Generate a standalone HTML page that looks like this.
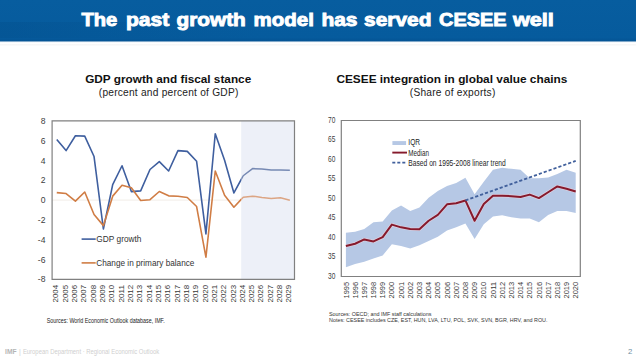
<!DOCTYPE html>
<html><head><meta charset="utf-8"><style>
html,body{margin:0;padding:0;background:#fff;width:636px;height:357px;overflow:hidden}
svg{display:block}
</style></head><body>
<svg width="636" height="357" viewBox="0 0 636 357">
<defs><linearGradient id="hg" x1="0" y1="0" x2="0" y2="1"><stop offset="0" stop-color="#075d9f"/><stop offset="0.9" stop-color="#065b9d"/><stop offset="1" stop-color="#045293"/></linearGradient><linearGradient id="hl" x1="0" y1="0" x2="0" y2="1"><stop offset="0" stop-color="#f2f6fa"/><stop offset="0.5" stop-color="#ffffff"/><stop offset="1" stop-color="#f1f1f1"/></linearGradient></defs>
<rect x="0" y="0" width="636" height="41.7" fill="url(#hg)"/>
<defs><linearGradient id="tx" x1="0" y1="0" x2="1" y2="0"><stop offset="0" stop-color="#03518f" stop-opacity="0.5"/><stop offset="0.4" stop-color="#03518f" stop-opacity="0.25"/><stop offset="1" stop-color="#03518f" stop-opacity="0"/></linearGradient></defs><rect x="0" y="22" width="260" height="16" fill="url(#tx)"/>
<rect x="0" y="41.7" width="636" height="3.6" fill="url(#hl)"/>
<text x="81.4" y="26" font-family='"Liberation Sans", sans-serif' font-weight="bold" font-size="18.5" fill="#fff" stroke="#fff" stroke-width="0.9" textLength="35.8" lengthAdjust="spacingAndGlyphs">The</text>
<text x="125.9" y="26" font-family='"Liberation Sans", sans-serif' font-weight="bold" font-size="18.5" fill="#fff" stroke="#fff" stroke-width="0.9" textLength="43.3" lengthAdjust="spacingAndGlyphs">past</text>
<text x="176.6" y="26" font-family='"Liberation Sans", sans-serif' font-weight="bold" font-size="18.5" fill="#fff" stroke="#fff" stroke-width="0.9" textLength="69.2" lengthAdjust="spacingAndGlyphs">growth</text>
<text x="253.6" y="26" font-family='"Liberation Sans", sans-serif' font-weight="bold" font-size="18.5" fill="#fff" stroke="#fff" stroke-width="0.9" textLength="60.3" lengthAdjust="spacingAndGlyphs">model</text>
<text x="321.4" y="26" font-family='"Liberation Sans", sans-serif' font-weight="bold" font-size="18.5" fill="#fff" stroke="#fff" stroke-width="0.9" textLength="36.1" lengthAdjust="spacingAndGlyphs">has</text>
<text x="364.09999999999997" y="26" font-family='"Liberation Sans", sans-serif' font-weight="bold" font-size="18.5" fill="#fff" stroke="#fff" stroke-width="0.9" textLength="67.3" lengthAdjust="spacingAndGlyphs">served</text>
<text x="439.09999999999997" y="26" font-family='"Liberation Sans", sans-serif' font-weight="bold" font-size="18.5" fill="#fff" stroke="#fff" stroke-width="0.9" textLength="67.3" lengthAdjust="spacingAndGlyphs">CESEE</text>
<text x="512.9" y="26" font-family='"Liberation Sans", sans-serif' font-weight="bold" font-size="18.5" fill="#fff" stroke="#fff" stroke-width="0.9" textLength="41.0" lengthAdjust="spacingAndGlyphs">well</text>
<text x="85.2" y="82.7" font-family='"Liberation Sans", sans-serif' font-weight="bold" font-size="11" fill="#111" textLength="166" lengthAdjust="spacingAndGlyphs">GDP growth and fiscal stance</text>
<text x="98.8" y="96.3" font-family='"Liberation Sans", sans-serif' font-size="10.2" fill="#222" textLength="139.5" lengthAdjust="spacing">(percent and percent of GDP)</text>
<text x="336.4" y="82.7" font-family='"Liberation Sans", sans-serif' font-weight="bold" font-size="11" fill="#111" textLength="231" lengthAdjust="spacingAndGlyphs">CESEE integration in global value chains</text>
<text x="409.8" y="96.3" font-family='"Liberation Sans", sans-serif' font-size="10.2" fill="#222" textLength="85.5" lengthAdjust="spacing">(Share of exports)</text>
<clipPath id="cl"><rect x="0" y="0" width="241.2" height="357"/></clipPath><clipPath id="cr"><rect x="241.2" y="0" width="394.8" height="357"/></clipPath>
<rect x="241.2" y="120.9" width="53.30" height="158.40" fill="#edf0f8"/>
<line x1="52.1" y1="200.10000000000002" x2="241.2" y2="200.10000000000002" stroke="#ebe5de" stroke-width="0.7"/>
<polyline clip-path="url(#cl)" points="56.76,139.51 66.08,150.60 75.41,135.75 84.73,136.15 94.05,156.54 103.38,229.01 112.70,184.56 122.02,165.75 131.35,191.59 140.67,190.89 149.99,169.51 159.32,161.59 168.64,170.99 177.96,150.60 187.28,151.39 196.61,161.29 205.93,233.86 215.25,133.77 224.58,160.30 233.90,192.97 243.22,175.75 252.55,168.62 261.87,169.11 271.19,170.10 280.52,170.10 289.84,170.30" fill="none" stroke="#3f5f9f" stroke-width="1.6" stroke-linejoin="round"/>
<polyline clip-path="url(#cl)" points="56.76,192.58 66.08,193.57 75.41,201.19 84.73,191.98 94.05,214.55 103.38,225.64 112.70,196.14 122.02,185.25 131.35,187.82 140.67,200.50 149.99,199.70 159.32,191.49 168.64,195.84 177.96,196.24 187.28,197.53 196.61,206.54 205.93,257.22 215.25,170.99 224.58,195.25 233.90,207.23 243.22,197.23 252.55,196.14 261.87,197.43 271.19,198.42 280.52,197.82 289.84,200.30" fill="none" stroke="#d07d45" stroke-width="1.6" stroke-linejoin="round"/>
<polyline clip-path="url(#cr)" points="56.76,139.51 66.08,150.60 75.41,135.75 84.73,136.15 94.05,156.54 103.38,229.01 112.70,184.56 122.02,165.75 131.35,191.59 140.67,190.89 149.99,169.51 159.32,161.59 168.64,170.99 177.96,150.60 187.28,151.39 196.61,161.29 205.93,233.86 215.25,133.77 224.58,160.30 233.90,192.97 243.22,175.75 252.55,168.62 261.87,169.11 271.19,170.10 280.52,170.10 289.84,170.30" fill="none" stroke="#7689b3" stroke-width="1.5" stroke-linejoin="round"/>
<polyline clip-path="url(#cr)" points="56.76,192.58 66.08,193.57 75.41,201.19 84.73,191.98 94.05,214.55 103.38,225.64 112.70,196.14 122.02,185.25 131.35,187.82 140.67,200.50 149.99,199.70 159.32,191.49 168.64,195.84 177.96,196.24 187.28,197.53 196.61,206.54 205.93,257.22 215.25,170.99 224.58,195.25 233.90,207.23 243.22,197.23 252.55,196.14 261.87,197.43 271.19,198.42 280.52,197.82 289.84,200.30" fill="none" stroke="#dca584" stroke-width="1.5" stroke-linejoin="round"/>
<path d="M52.1,279.3 V120.9 H294.5 V279.3 Z" fill="none" stroke="#808080" stroke-width="1.2"/>
<text x="45.5" y="282.40" text-anchor="end" font-family='"Liberation Sans", sans-serif' font-size="8.6" fill="#404040">-8</text>
<text x="45.5" y="262.60" text-anchor="end" font-family='"Liberation Sans", sans-serif' font-size="8.6" fill="#404040">-6</text>
<text x="45.5" y="242.80" text-anchor="end" font-family='"Liberation Sans", sans-serif' font-size="8.6" fill="#404040">-4</text>
<text x="45.5" y="223.00" text-anchor="end" font-family='"Liberation Sans", sans-serif' font-size="8.6" fill="#404040">-2</text>
<text x="45.5" y="203.20" text-anchor="end" font-family='"Liberation Sans", sans-serif' font-size="8.6" fill="#404040">0</text>
<text x="45.5" y="183.40" text-anchor="end" font-family='"Liberation Sans", sans-serif' font-size="8.6" fill="#404040">2</text>
<text x="45.5" y="163.60" text-anchor="end" font-family='"Liberation Sans", sans-serif' font-size="8.6" fill="#404040">4</text>
<text x="45.5" y="143.80" text-anchor="end" font-family='"Liberation Sans", sans-serif' font-size="8.6" fill="#404040">6</text>
<text x="45.5" y="124.00" text-anchor="end" font-family='"Liberation Sans", sans-serif' font-size="8.6" fill="#404040">8</text>
<text transform="translate(58.36,302.5) rotate(-90)" font-family='"Liberation Sans", sans-serif' font-size="7.8" fill="#383838" textLength="17.6" lengthAdjust="spacingAndGlyphs">2004</text>
<text transform="translate(67.68,302.5) rotate(-90)" font-family='"Liberation Sans", sans-serif' font-size="7.8" fill="#383838" textLength="17.6" lengthAdjust="spacingAndGlyphs">2005</text>
<text transform="translate(77.01,302.5) rotate(-90)" font-family='"Liberation Sans", sans-serif' font-size="7.8" fill="#383838" textLength="17.6" lengthAdjust="spacingAndGlyphs">2006</text>
<text transform="translate(86.33,302.5) rotate(-90)" font-family='"Liberation Sans", sans-serif' font-size="7.8" fill="#383838" textLength="17.6" lengthAdjust="spacingAndGlyphs">2007</text>
<text transform="translate(95.65,302.5) rotate(-90)" font-family='"Liberation Sans", sans-serif' font-size="7.8" fill="#383838" textLength="17.6" lengthAdjust="spacingAndGlyphs">2008</text>
<text transform="translate(104.98,302.5) rotate(-90)" font-family='"Liberation Sans", sans-serif' font-size="7.8" fill="#383838" textLength="17.6" lengthAdjust="spacingAndGlyphs">2009</text>
<text transform="translate(114.30,302.5) rotate(-90)" font-family='"Liberation Sans", sans-serif' font-size="7.8" fill="#383838" textLength="17.6" lengthAdjust="spacingAndGlyphs">2010</text>
<text transform="translate(123.62,302.5) rotate(-90)" font-family='"Liberation Sans", sans-serif' font-size="7.8" fill="#383838" textLength="17.6" lengthAdjust="spacingAndGlyphs">2011</text>
<text transform="translate(132.95,302.5) rotate(-90)" font-family='"Liberation Sans", sans-serif' font-size="7.8" fill="#383838" textLength="17.6" lengthAdjust="spacingAndGlyphs">2012</text>
<text transform="translate(142.27,302.5) rotate(-90)" font-family='"Liberation Sans", sans-serif' font-size="7.8" fill="#383838" textLength="17.6" lengthAdjust="spacingAndGlyphs">2013</text>
<text transform="translate(151.59,302.5) rotate(-90)" font-family='"Liberation Sans", sans-serif' font-size="7.8" fill="#383838" textLength="17.6" lengthAdjust="spacingAndGlyphs">2014</text>
<text transform="translate(160.92,302.5) rotate(-90)" font-family='"Liberation Sans", sans-serif' font-size="7.8" fill="#383838" textLength="17.6" lengthAdjust="spacingAndGlyphs">2015</text>
<text transform="translate(170.24,302.5) rotate(-90)" font-family='"Liberation Sans", sans-serif' font-size="7.8" fill="#383838" textLength="17.6" lengthAdjust="spacingAndGlyphs">2016</text>
<text transform="translate(179.56,302.5) rotate(-90)" font-family='"Liberation Sans", sans-serif' font-size="7.8" fill="#383838" textLength="17.6" lengthAdjust="spacingAndGlyphs">2017</text>
<text transform="translate(188.88,302.5) rotate(-90)" font-family='"Liberation Sans", sans-serif' font-size="7.8" fill="#383838" textLength="17.6" lengthAdjust="spacingAndGlyphs">2018</text>
<text transform="translate(198.21,302.5) rotate(-90)" font-family='"Liberation Sans", sans-serif' font-size="7.8" fill="#383838" textLength="17.6" lengthAdjust="spacingAndGlyphs">2019</text>
<text transform="translate(207.53,302.5) rotate(-90)" font-family='"Liberation Sans", sans-serif' font-size="7.8" fill="#383838" textLength="17.6" lengthAdjust="spacingAndGlyphs">2020</text>
<text transform="translate(216.85,302.5) rotate(-90)" font-family='"Liberation Sans", sans-serif' font-size="7.8" fill="#383838" textLength="17.6" lengthAdjust="spacingAndGlyphs">2021</text>
<text transform="translate(226.18,302.5) rotate(-90)" font-family='"Liberation Sans", sans-serif' font-size="7.8" fill="#383838" textLength="17.6" lengthAdjust="spacingAndGlyphs">2022</text>
<text transform="translate(235.50,302.5) rotate(-90)" font-family='"Liberation Sans", sans-serif' font-size="7.8" fill="#383838" textLength="17.6" lengthAdjust="spacingAndGlyphs">2023</text>
<text transform="translate(244.82,302.5) rotate(-90)" font-family='"Liberation Sans", sans-serif' font-size="7.8" fill="#383838" textLength="17.6" lengthAdjust="spacingAndGlyphs">2024</text>
<text transform="translate(254.15,302.5) rotate(-90)" font-family='"Liberation Sans", sans-serif' font-size="7.8" fill="#383838" textLength="17.6" lengthAdjust="spacingAndGlyphs">2025</text>
<text transform="translate(263.47,302.5) rotate(-90)" font-family='"Liberation Sans", sans-serif' font-size="7.8" fill="#383838" textLength="17.6" lengthAdjust="spacingAndGlyphs">2026</text>
<text transform="translate(272.79,302.5) rotate(-90)" font-family='"Liberation Sans", sans-serif' font-size="7.8" fill="#383838" textLength="17.6" lengthAdjust="spacingAndGlyphs">2027</text>
<text transform="translate(282.12,302.5) rotate(-90)" font-family='"Liberation Sans", sans-serif' font-size="7.8" fill="#383838" textLength="17.6" lengthAdjust="spacingAndGlyphs">2028</text>
<text transform="translate(291.44,302.5) rotate(-90)" font-family='"Liberation Sans", sans-serif' font-size="7.8" fill="#383838" textLength="17.6" lengthAdjust="spacingAndGlyphs">2029</text>
<line x1="81.6" y1="239.1" x2="95.7" y2="239.1" stroke="#3f5f9f" stroke-width="1.6"/>
<text x="96.3" y="242" font-family='"Liberation Sans", sans-serif' font-size="8.3" fill="#333" textLength="45.2" lengthAdjust="spacingAndGlyphs">GDP growth</text>
<line x1="81.6" y1="262.9" x2="95.7" y2="262.9" stroke="#d07d45" stroke-width="1.6"/>
<text x="96.3" y="265.8" font-family='"Liberation Sans", sans-serif' font-size="8.3" fill="#333" textLength="98.1" lengthAdjust="spacingAndGlyphs">Change in primary balance</text>
<polygon points="345.90,232.82 355.09,231.65 364.28,228.92 373.47,222.29 382.67,221.51 391.86,210.59 401.05,205.52 410.24,210.98 419.43,207.47 428.63,197.72 437.82,191.09 447.01,186.02 456.20,182.90 465.40,177.83 474.59,194.21 483.78,181.73 492.97,169.64 502.17,167.69 511.36,168.86 520.55,169.64 529.74,178.22 538.93,178.22 548.13,177.44 557.32,173.93 566.51,169.64 575.70,172.76 575.70,212.93 566.51,210.98 557.32,210.98 548.13,214.88 538.93,222.29 529.74,218.39 520.55,218.39 511.36,217.22 502.17,215.27 492.97,216.44 483.78,224.24 474.59,239.06 465.40,223.46 456.20,227.36 447.01,230.48 437.82,236.72 428.63,241.01 419.43,245.30 410.24,248.42 401.05,246.08 391.86,244.13 382.67,255.44 373.47,258.56 364.28,261.68 355.09,264.02 345.90,267.14" fill="#b6c8e5"/>
<polyline points="345.90,246.08 355.09,243.74 364.28,239.45 373.47,241.40 382.67,237.11 391.86,224.63 401.05,227.36 410.24,228.92 419.43,229.31 428.63,220.73 437.82,214.88 447.01,204.35 456.20,203.18 465.40,200.45 474.59,220.73 483.78,203.96 492.97,195.77 502.17,195.77 511.36,196.16 520.55,196.94 529.74,194.60 538.93,198.11 548.13,192.26 557.32,186.41 566.51,188.75 575.70,191.48" fill="none" stroke="#f3d3dc" stroke-width="3.4" stroke-opacity="0.6" stroke-linejoin="round"/>
<polyline points="345.90,246.08 355.09,243.74 364.28,239.45 373.47,241.40 382.67,237.11 391.86,224.63 401.05,227.36 410.24,228.92 419.43,229.31 428.63,220.73 437.82,214.88 447.01,204.35 456.20,203.18 465.40,200.45 474.59,220.73 483.78,203.96 492.97,195.77 502.17,195.77 511.36,196.16 520.55,196.94 529.74,194.60 538.93,198.11 548.13,192.26 557.32,186.41 566.51,188.75 575.70,191.48" fill="none" stroke="#861a2c" stroke-width="2" stroke-linejoin="round"/>
<line x1="465.40" y1="200.45" x2="575.70" y2="160.87" stroke="#41609c" stroke-width="1.8" stroke-dasharray="3.2 2"/>
<path d="M341.3,276.5 V120.5 H580.3 V276.5 Z" fill="none" stroke="#808080" stroke-width="1.2"/>
<text x="335.3" y="278.90" text-anchor="end" font-family='"Liberation Sans", sans-serif' font-size="8.6" fill="#404040" textLength="7.3" lengthAdjust="spacingAndGlyphs">30</text>
<text x="335.3" y="259.40" text-anchor="end" font-family='"Liberation Sans", sans-serif' font-size="8.6" fill="#404040" textLength="7.3" lengthAdjust="spacingAndGlyphs">35</text>
<text x="335.3" y="239.90" text-anchor="end" font-family='"Liberation Sans", sans-serif' font-size="8.6" fill="#404040" textLength="7.3" lengthAdjust="spacingAndGlyphs">40</text>
<text x="335.3" y="220.40" text-anchor="end" font-family='"Liberation Sans", sans-serif' font-size="8.6" fill="#404040" textLength="7.3" lengthAdjust="spacingAndGlyphs">45</text>
<text x="335.3" y="200.90" text-anchor="end" font-family='"Liberation Sans", sans-serif' font-size="8.6" fill="#404040" textLength="7.3" lengthAdjust="spacingAndGlyphs">50</text>
<text x="335.3" y="181.40" text-anchor="end" font-family='"Liberation Sans", sans-serif' font-size="8.6" fill="#404040" textLength="7.3" lengthAdjust="spacingAndGlyphs">55</text>
<text x="335.3" y="161.90" text-anchor="end" font-family='"Liberation Sans", sans-serif' font-size="8.6" fill="#404040" textLength="7.3" lengthAdjust="spacingAndGlyphs">60</text>
<text x="335.3" y="142.40" text-anchor="end" font-family='"Liberation Sans", sans-serif' font-size="8.6" fill="#404040" textLength="7.3" lengthAdjust="spacingAndGlyphs">65</text>
<text x="335.3" y="122.90" text-anchor="end" font-family='"Liberation Sans", sans-serif' font-size="8.6" fill="#404040" textLength="7.3" lengthAdjust="spacingAndGlyphs">70</text>
<text transform="translate(348.50,298.5) rotate(-90)" font-family='"Liberation Sans", sans-serif' font-size="7.3" fill="#383838" textLength="16.7" lengthAdjust="spacingAndGlyphs">1995</text>
<text transform="translate(357.69,298.5) rotate(-90)" font-family='"Liberation Sans", sans-serif' font-size="7.3" fill="#383838" textLength="16.7" lengthAdjust="spacingAndGlyphs">1996</text>
<text transform="translate(366.88,298.5) rotate(-90)" font-family='"Liberation Sans", sans-serif' font-size="7.3" fill="#383838" textLength="16.7" lengthAdjust="spacingAndGlyphs">1997</text>
<text transform="translate(376.07,298.5) rotate(-90)" font-family='"Liberation Sans", sans-serif' font-size="7.3" fill="#383838" textLength="16.7" lengthAdjust="spacingAndGlyphs">1998</text>
<text transform="translate(385.27,298.5) rotate(-90)" font-family='"Liberation Sans", sans-serif' font-size="7.3" fill="#383838" textLength="16.7" lengthAdjust="spacingAndGlyphs">1999</text>
<text transform="translate(394.46,298.5) rotate(-90)" font-family='"Liberation Sans", sans-serif' font-size="7.3" fill="#383838" textLength="16.7" lengthAdjust="spacingAndGlyphs">2000</text>
<text transform="translate(403.65,298.5) rotate(-90)" font-family='"Liberation Sans", sans-serif' font-size="7.3" fill="#383838" textLength="16.7" lengthAdjust="spacingAndGlyphs">2001</text>
<text transform="translate(412.84,298.5) rotate(-90)" font-family='"Liberation Sans", sans-serif' font-size="7.3" fill="#383838" textLength="16.7" lengthAdjust="spacingAndGlyphs">2002</text>
<text transform="translate(422.03,298.5) rotate(-90)" font-family='"Liberation Sans", sans-serif' font-size="7.3" fill="#383838" textLength="16.7" lengthAdjust="spacingAndGlyphs">2003</text>
<text transform="translate(431.23,298.5) rotate(-90)" font-family='"Liberation Sans", sans-serif' font-size="7.3" fill="#383838" textLength="16.7" lengthAdjust="spacingAndGlyphs">2004</text>
<text transform="translate(440.42,298.5) rotate(-90)" font-family='"Liberation Sans", sans-serif' font-size="7.3" fill="#383838" textLength="16.7" lengthAdjust="spacingAndGlyphs">2005</text>
<text transform="translate(449.61,298.5) rotate(-90)" font-family='"Liberation Sans", sans-serif' font-size="7.3" fill="#383838" textLength="16.7" lengthAdjust="spacingAndGlyphs">2006</text>
<text transform="translate(458.80,298.5) rotate(-90)" font-family='"Liberation Sans", sans-serif' font-size="7.3" fill="#383838" textLength="16.7" lengthAdjust="spacingAndGlyphs">2007</text>
<text transform="translate(468.00,298.5) rotate(-90)" font-family='"Liberation Sans", sans-serif' font-size="7.3" fill="#383838" textLength="16.7" lengthAdjust="spacingAndGlyphs">2008</text>
<text transform="translate(477.19,298.5) rotate(-90)" font-family='"Liberation Sans", sans-serif' font-size="7.3" fill="#383838" textLength="16.7" lengthAdjust="spacingAndGlyphs">2009</text>
<text transform="translate(486.38,298.5) rotate(-90)" font-family='"Liberation Sans", sans-serif' font-size="7.3" fill="#383838" textLength="16.7" lengthAdjust="spacingAndGlyphs">2010</text>
<text transform="translate(495.57,298.5) rotate(-90)" font-family='"Liberation Sans", sans-serif' font-size="7.3" fill="#383838" textLength="16.7" lengthAdjust="spacingAndGlyphs">2011</text>
<text transform="translate(504.77,298.5) rotate(-90)" font-family='"Liberation Sans", sans-serif' font-size="7.3" fill="#383838" textLength="16.7" lengthAdjust="spacingAndGlyphs">2012</text>
<text transform="translate(513.96,298.5) rotate(-90)" font-family='"Liberation Sans", sans-serif' font-size="7.3" fill="#383838" textLength="16.7" lengthAdjust="spacingAndGlyphs">2013</text>
<text transform="translate(523.15,298.5) rotate(-90)" font-family='"Liberation Sans", sans-serif' font-size="7.3" fill="#383838" textLength="16.7" lengthAdjust="spacingAndGlyphs">2014</text>
<text transform="translate(532.34,298.5) rotate(-90)" font-family='"Liberation Sans", sans-serif' font-size="7.3" fill="#383838" textLength="16.7" lengthAdjust="spacingAndGlyphs">2015</text>
<text transform="translate(541.53,298.5) rotate(-90)" font-family='"Liberation Sans", sans-serif' font-size="7.3" fill="#383838" textLength="16.7" lengthAdjust="spacingAndGlyphs">2016</text>
<text transform="translate(550.73,298.5) rotate(-90)" font-family='"Liberation Sans", sans-serif' font-size="7.3" fill="#383838" textLength="16.7" lengthAdjust="spacingAndGlyphs">2017</text>
<text transform="translate(559.92,298.5) rotate(-90)" font-family='"Liberation Sans", sans-serif' font-size="7.3" fill="#383838" textLength="16.7" lengthAdjust="spacingAndGlyphs">2018</text>
<text transform="translate(569.11,298.5) rotate(-90)" font-family='"Liberation Sans", sans-serif' font-size="7.3" fill="#383838" textLength="16.7" lengthAdjust="spacingAndGlyphs">2019</text>
<text transform="translate(578.30,298.5) rotate(-90)" font-family='"Liberation Sans", sans-serif' font-size="7.3" fill="#383838" textLength="16.7" lengthAdjust="spacingAndGlyphs">2020</text>
<rect x="392.4" y="141.1" width="13.7" height="3.9" fill="#b6c8e5"/>
<text x="408.3" y="145.4" font-family='"Liberation Sans", sans-serif' font-size="8.3" fill="#262626" textLength="11.8" lengthAdjust="spacingAndGlyphs">IQR</text>
<line x1="392.3" y1="152.6" x2="407" y2="152.6" stroke="#861a2c" stroke-width="1.9"/>
<text x="408.3" y="155.6" font-family='"Liberation Sans", sans-serif' font-size="8.3" fill="#262626" textLength="20.6" lengthAdjust="spacingAndGlyphs">Median</text>
<line x1="392.3" y1="162.6" x2="406.5" y2="162.6" stroke="#41609c" stroke-width="1.6" stroke-dasharray="3 2"/>
<text x="408.3" y="165.5" font-family='"Liberation Sans", sans-serif' font-size="8.3" fill="#262626" textLength="97.5" lengthAdjust="spacingAndGlyphs">Based on 1995-2008 linear trend</text>
<text x="46.8" y="323.3" font-family='"Liberation Sans", sans-serif' font-size="6.4" fill="#222" textLength="118" lengthAdjust="spacingAndGlyphs">Sources: World Economic Outlook database, IMF.</text>
<text x="329" y="315.8" font-family='"Liberation Sans", sans-serif' font-size="6" fill="#333" textLength="102.5" lengthAdjust="spacingAndGlyphs">Sources: OECD;  and IMF  staff calculations</text>
<text x="329" y="321.6" font-family='"Liberation Sans", sans-serif' font-size="6" fill="#333" textLength="218.5" lengthAdjust="spacingAndGlyphs">Notes: CESEE  includes CZE, EST,  HUN,  LVA, LTU, POL,  SVK, SVN, BGR, HRV, and ROU.</text>
<text x="5.1" y="354.3" font-family='"Liberation Sans", sans-serif' font-weight="bold" font-size="6.8" fill="#b5b5b5" textLength="11.5" lengthAdjust="spacingAndGlyphs">IMF</text>
<text x="19" y="354.3" font-family='"Liberation Sans", sans-serif' font-size="7" fill="#cfcfcf">|</text>
<text x="22.9" y="354.3" font-family='"Liberation Sans", sans-serif' font-size="7" fill="#cfcfcf" textLength="136.3" lengthAdjust="spacingAndGlyphs">European Department · Regional Economic Outlook</text>
<text x="627.9" y="354.3" font-family='"Liberation Sans", sans-serif' font-size="7.8" fill="#6f8fa2">2</text>
</svg>
</body></html>
